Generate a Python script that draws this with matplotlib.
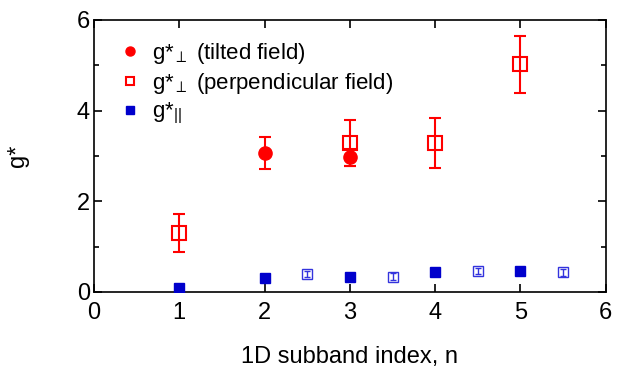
import numpy as np
import matplotlib.pyplot as plt
from matplotlib.lines import Line2D
from matplotlib.ticker import MultipleLocator

plt.rcParams['font.family'] = ['Liberation Sans', 'DejaVu Sans']
plt.rcParams['mathtext.fontset'] = 'custom'
plt.rcParams['mathtext.rm'] = 'Liberation Sans'
plt.rcParams['mathtext.it'] = 'Liberation Sans'

# ── Datos ─────────────────────────────────────────
n_tilt   = [2, 3]
g_tilt   = [3.06, 2.97]
e_tilt   = [0.35, 0.19]

n_perp   = [1, 3, 4, 5]
g_perp   = [1.30, 3.29, 3.28, 5.02]
e_perp   = [0.42, 0.50, 0.55, 0.63]

n_par    = [1, 2, 3, 4, 5]
g_par    = [0.08, 0.30, 0.32, 0.43, 0.46]

n_par2   = [2.5, 3.5, 4.5, 5.5]
g_par2   = [0.39, 0.34, 0.46, 0.43]
e_par2   = [0.07, 0.07, 0.07, 0.07]

RED = '#ff0000'; BLUE = '#0000cc'; LBLUE = '#3333dd'

fig = plt.figure(figsize=(6.31, 3.77), dpi=100)
ax = fig.add_axes([0.149, 0.2255, 0.811, 0.7215])

ax.errorbar(n_par2, g_par2, yerr=e_par2, fmt='s', ms=6.5, mfc='none',
            mec=LBLUE, mew=1.0, ecolor=LBLUE, elinewidth=1.0, capsize=2.5,
            capthick=1.0, zorder=3)
ax.errorbar(n_tilt, g_tilt, yerr=e_tilt, fmt='o', ms=9.5, color=RED,
            ecolor=RED, elinewidth=1.5, capsize=4, capthick=1.5, zorder=4)
ax.errorbar(n_perp, g_perp, yerr=e_perp, fmt='s', ms=9.5, mfc='none',
            mec=RED, mew=1.5, color=RED, ecolor=RED, elinewidth=1.5,
            capsize=4, capthick=1.5, zorder=4)
ax.plot(n_par, g_par, 's', ms=7.5, color=BLUE, zorder=5)

ax.set_xlim(0, 6)
ax.set_ylim(0, 6)
ax.xaxis.set_major_locator(MultipleLocator(1))
ax.yaxis.set_major_locator(MultipleLocator(2))
ax.yaxis.set_minor_locator(MultipleLocator(1))
ax.tick_params(which='both', direction='in', top=True, right=True,
               labelsize=17, width=1.2, colors='black')
ax.tick_params(which='major', length=6)
ax.tick_params(which='minor', length=3.5)
ax.tick_params(axis='x', pad=7)
ax.tick_params(axis='y', pad=3)
for sp in ax.spines.values():
    sp.set_linewidth(1.2)

ax.set_xlabel('1D subband index, n', fontsize=17, labelpad=16)
ax.set_ylabel('g*', fontsize=17, labelpad=34)

handles = [
    Line2D([], [], ls='none', marker='o', ms=6.5, color=RED),
    Line2D([], [], ls='none', marker='s', ms=6, mfc='none', mec=RED, mew=1.5),
    Line2D([], [], ls='none', marker='s', ms=6, color=BLUE),
]
labels = [r'g*$_{\perp}$ (tilted field)',
          r'g*$_{\perp}$ (perpendicular field)',
          r'g*$_{||}$']
ax.legend(handles, labels, loc='upper left', frameon=False, fontsize=16,
          handlelength=0.8, handletextpad=0.6, labelspacing=0.22,
          borderaxespad=0.0, bbox_to_anchor=(0.035, 0.955))

fig.savefig('out.png', dpi=100)
